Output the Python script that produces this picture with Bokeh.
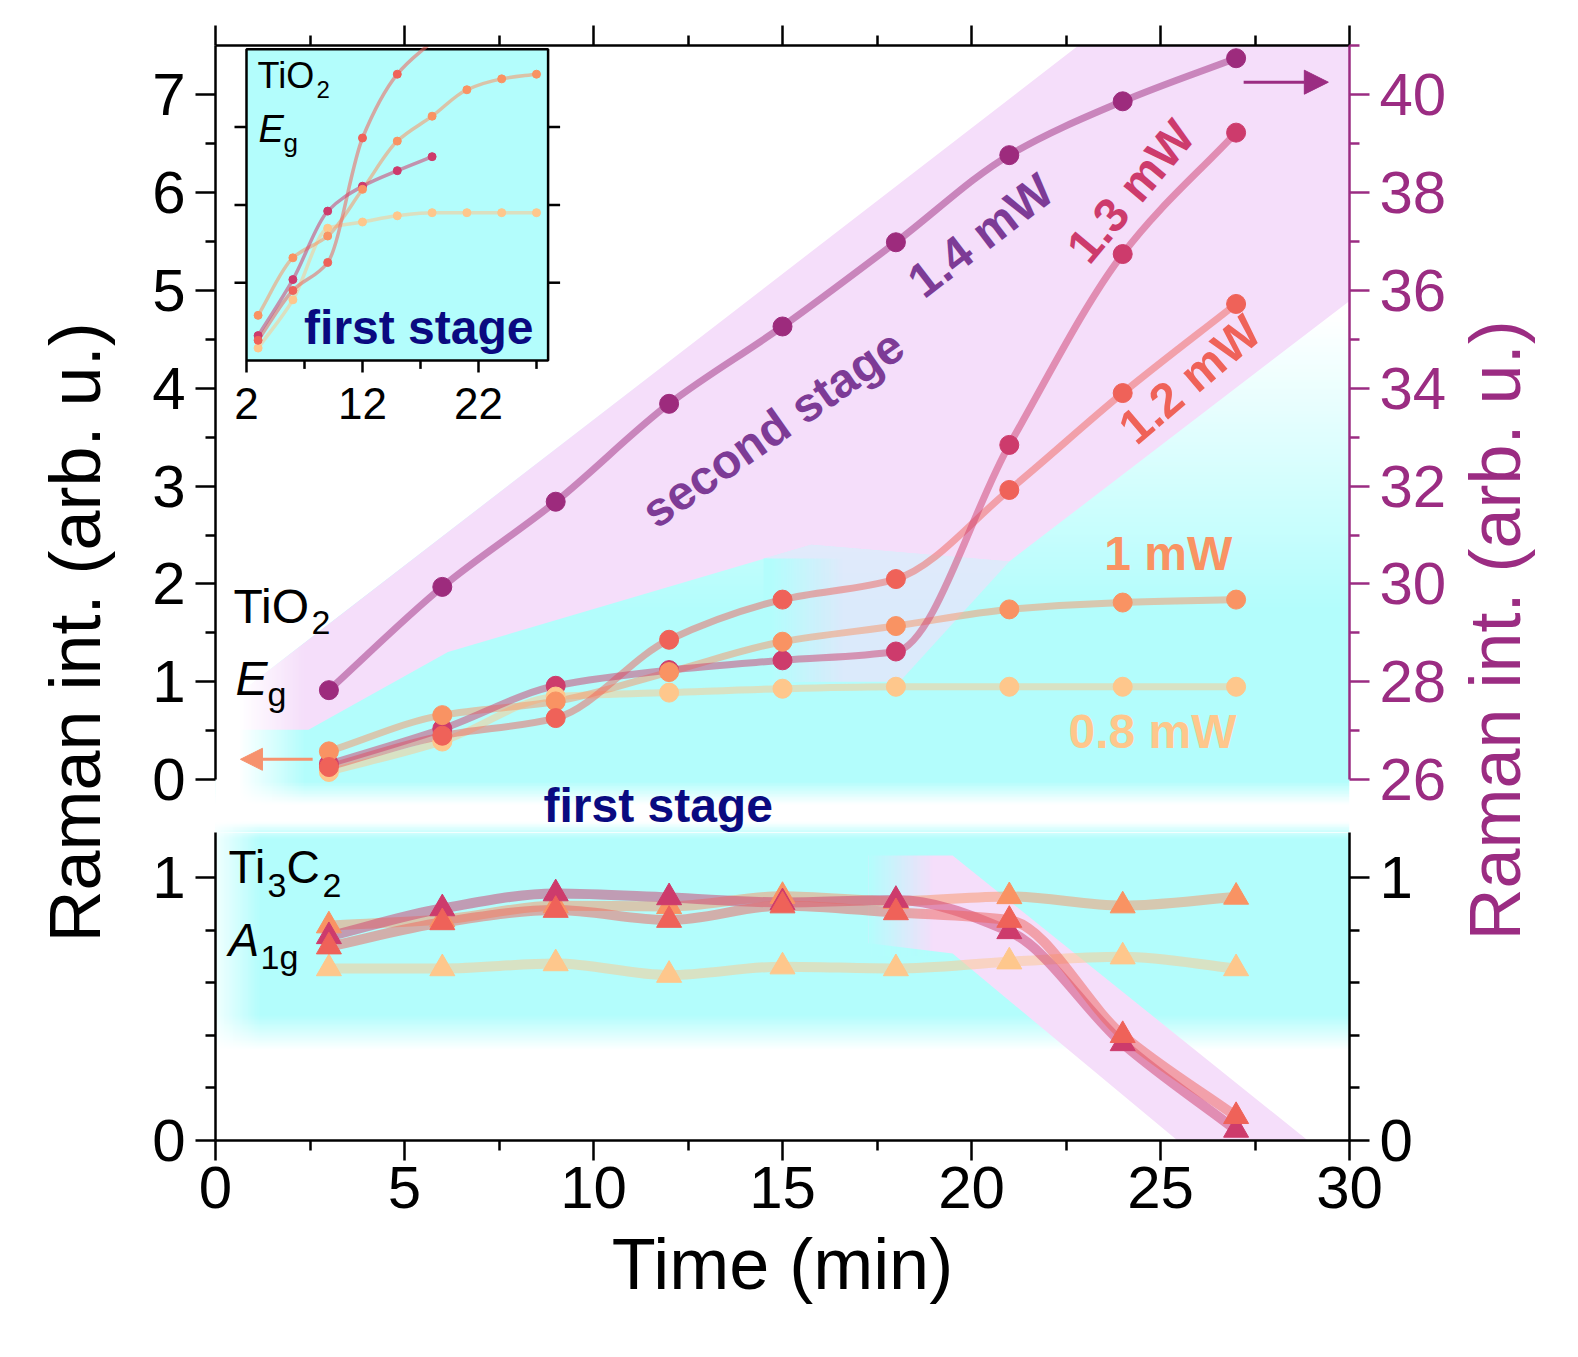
import numpy as np
from bokeh.plotting import figure
from bokeh.models import Range1d, LinearAxis, FixedTicker, Arrow, NormalHead, ColumnDataSource
from bokeh.layouts import row, column
from bokeh.embed import file_html
from bokeh.resources import INLINE
from bokeh.core.properties import value

# ---------------- data ----------------
time_min = [3, 6, 9, 12, 15, 18, 21, 24, 27]

# TiO2 Eg, left axis (arb. u.)
tio2_08mw = [0.08, 0.39, 0.85, 0.89, 0.93, 0.95, 0.95, 0.95, 0.95]
tio2_10mw = [0.29, 0.66, 0.80, 1.10, 1.41, 1.57, 1.74, 1.81, 1.84]
tio2_12mw = [0.13, 0.45, 0.63, 1.43, 1.84, 2.05, 2.96, 3.95, 4.86]
tio2_13mw = [0.16, 0.52, 0.96, 1.12, 1.22, 1.31, 3.42, 5.37, 6.61]
# TiO2 Eg, 1.4 mW, right axis (arb. u.)
tio2_14mw = [27.83, 29.94, 31.68, 33.68, 35.26, 36.98, 38.76, 39.86, 40.74]

# Ti3C2 A1g (arb. u.)
ti3c2_08mw = [0.654, 0.654, 0.673, 0.629, 0.661, 0.654, 0.680, 0.699, 0.654]
ti3c2_10mw = [0.817, 0.840, 0.893, 0.890, 0.929, 0.910, 0.928, 0.893, 0.926]
ti3c2_12mw = [0.737, 0.829, 0.876, 0.838, 0.893, 0.867, 0.838, 0.400, 0.092]
ti3c2_13mw = [0.776, 0.882, 0.939, 0.924, 0.905, 0.914, 0.795, 0.369, 0.040]

n_first_stage = 6  # points shown in the inset for 1.2 and 1.3 mW

x_ticks = [0, 5, 10, 15, 20, 25, 30]
x_minor = [2.5, 7.5, 12.5, 17.5, 22.5, 27.5]
left_ticks = [0, 1, 2, 3, 4, 5, 6, 7]
left_minor = [0.5, 1.5, 2.5, 3.5, 4.5, 5.5, 6.5]
right_ticks = [26, 28, 30, 32, 34, 36, 38, 40]
right_minor = [27, 29, 31, 33, 35, 37, 39, 41]
low_ticks = [0, 1]
low_minor = [0.2, 0.4, 0.6, 0.8, 1.2]
inset_xticks = [2, 12, 22]
inset_xminor = [7, 17, 27]
inset_yticks = [0.5, 1.0, 1.5]

# ---------------- style ----------------
FONT = "Liberation Sans"
C08, C10, C12, C13, C14 = "#fec78c", "#f99363", "#ef6259", "#cd3b6c", "#9d2b7d"
LBL14 = "#7d3b96"
PURPLE = "#9b2c82"
NAVY = "#0a0a80"
CYAN = (179, 253, 252)
CYAN_HEX = "#b3fdfc"
PINK = "#f5defa"
MID = 0.35  # distance from baseline to text middle, in em

FW = 1134
TOP_FH, BOT_FH = 787, 308
TOP_Y = (7.5 - TOP_FH / 97.9, 7.5)
RIGHT_Y = (26 + 2 * TOP_Y[0], 41.0)
INX = (-0.672, 97.086)
INY = ((360 - 832) / 155.6, 2.0244)
BOT_Y = (0.0, BOT_FH / 263)
BORDER_L, BORDER_R = 87, 100


def rgba(alpha, rgb):
    ny, nx = alpha.shape
    img = np.empty((ny, nx), dtype=np.uint32)
    v = img.view(dtype=np.uint8).reshape((ny, nx, 4))
    v[..., 0], v[..., 1], v[..., 2] = rgb
    v[..., 3] = (np.clip(alpha, 0, 1) * 255).astype(np.uint8)
    return img


def bez(x, y):
    """monotone cubic (PCHIP-like) Bezier segments through the points"""
    x = np.asarray(x, float)
    y = np.asarray(y, float)
    n = len(x)
    h = np.diff(x)
    dl = np.diff(y) / h
    d = np.zeros(n)
    d[0], d[-1] = dl[0], dl[-1]
    for k in range(1, n - 1):
        if dl[k - 1] * dl[k] <= 0:
            d[k] = 0.0
        else:
            w1 = 2 * h[k] + h[k - 1]
            w2 = h[k] + 2 * h[k - 1]
            d[k] = (w1 + w2) / (w1 / dl[k - 1] + w2 / dl[k])
    return ColumnDataSource(dict(
        x0=x[:-1], y0=y[:-1], x1=x[1:], y1=y[1:],
        cx0=x[:-1] + h / 3, cy0=y[:-1] + d[:-1] * h / 3,
        cx1=x[1:] - h / 3, cy1=y[1:] - d[1:] * h / 3,
    ))


def curve(p, x, y, color, width, alpha=0.5, **kw):
    p.bezier(x0="x0", y0="y0", x1="x1", y1="y1", cx0="cx0", cy0="cy0",
             cx1="cx1", cy1="cy1", source=bez(x, y), line_color=color,
             line_width=width, line_alpha=alpha, line_cap="round", **kw)


def style_axis(ax, color="black", fs="60px"):
    ax.axis_line_color = color
    ax.axis_line_width = 2.5
    ax.major_tick_line_color = color
    ax.minor_tick_line_color = color
    ax.major_tick_line_width = 2.5
    ax.minor_tick_line_width = 2.5
    ax.major_tick_out = 20
    ax.major_tick_in = 0
    ax.minor_tick_out = 10
    ax.minor_tick_in = 0
    ax.major_label_text_font = FONT
    ax.major_label_text_font_size = fs
    ax.major_label_text_color = color
    ax.major_label_standoff = 10


def txt(p, x, y, s, fs, color="black", style="normal", align="left",
        angle=0.0, xo=0, yo=0, centered=False, **kw):
    """y is the text baseline unless centered=True (then y is the text middle)"""
    if not centered:
        yo = yo - MID * fs
    p.text(x=[x], y=[y], text=[s], text_font=value(FONT), text_font_size=f"{fs}px",
           text_color=color, text_font_style=style, text_align=align,
           text_baseline="middle", angle=angle, x_offset=xo, y_offset=yo, **kw)


def no_grid(p):
    p.outline_line_color = None
    for g in p.xgrid + p.ygrid:
        g.visible = False


common = dict(output_backend="svg", toolbar_location=None,
              x_axis_location=None, y_axis_location=None,
              background_fill_color="white", border_fill_color="white")

# ================= top panel (TiO2) =================
top = figure(frame_width=FW, frame_height=TOP_FH, min_border_left=BORDER_L,
             min_border_right=BORDER_R, min_border_top=45, min_border_bottom=0,
             x_range=Range1d(0, 30), y_range=Range1d(*TOP_Y), **common)
no_grid(top)
top.extra_y_ranges = {"right": Range1d(*RIGHT_Y), "iny": Range1d(*INY)}
top.extra_x_ranges = {"inx": Range1d(*INX)}

ax = LinearAxis(bounds=(0, 7.5), ticker=FixedTicker(ticks=left_ticks, minor_ticks=left_minor))
style_axis(ax)
top.add_layout(ax, "left")
ax = LinearAxis(y_range_name="right", bounds=(26, 41),
                ticker=FixedTicker(ticks=right_ticks, minor_ticks=right_minor))
style_axis(ax, PURPLE)
top.add_layout(ax, "right")
ax = LinearAxis(ticker=FixedTicker(ticks=x_ticks, minor_ticks=x_minor))
style_axis(ax)
ax.major_label_overrides = {t: "" for t in x_ticks}
top.add_layout(ax, "above")

# background: cyan gradient (first stage), with a gap towards the lower panel
vv = np.linspace(TOP_Y[0], TOP_Y[1], 500)
pyt = 779.5 - 97.9 * vv
a = np.clip((4.75 - vv) / 3.0, 0, 1) * np.clip((805 - pyt) / 23, 0, 1)
a = np.maximum(a, np.clip((pyt - 822) / 16, 0, 1))
top.image_rgba(image=[rgba(np.tile(a[:, None], (1, 4)), CYAN)], x=0, y=TOP_Y[0],
               dw=30, dh=TOP_Y[1] - TOP_Y[0])
# white above band
top.patch(x=[0, 23.5, 0], y=[0.697, 7.7, 7.7], fill_color="white", line_color=None)
# pink band (second stage)
band_x = [0.3, 23.5, 30.0, 30.0, 21.0, 15.76, 6.15, 2.46, 0.3]
band_y = [0.786, 7.7, 7.7, 4.89, 2.23, 2.40, 1.305, 0.51, 0.51]
top.patch(x=band_x, y=band_y, fill_color=PINK, line_color=None)
# blend zone where the two stages overlap
blend_x = [14.6, 15.76, 21.0, 18.1, 14.6]
blend_y = [2.267, 2.40, 2.23, 1.0, 1.0]
top.patch(x=blend_x, y=blend_y, fill_color=PINK, fill_alpha=0.6, line_color=None)
xb = np.linspace(14.5, 16.8, 60)
ab = np.clip((16.6 - xb) / 1.9, 0, 1)
top.image_rgba(image=[rgba(np.tile(ab[None, :], (2, 1)), CYAN)], x=14.5, y=1.0,
               dw=2.3, dh=1.26)
# left fade
xl = np.linspace(0, 2.5, 60)
yl = np.linspace(TOP_Y[0], 1.55, 60)
XL, YL = np.meshgrid(xl, yl)
PYL = 779.5 - 97.9 * YL
alw = np.where(PYL < 812, np.clip((2.4 - XL) / 1.8, 0, 1), 0.8 * np.clip((1.2 - XL) / 1.2, 0, 1))
top.image_rgba(image=[rgba(alw, (255, 255, 255))], x=0, y=TOP_Y[0],
               dw=2.5, dh=1.55 - TOP_Y[0])

# ---------- inset ----------
IK = dict(x_range_name="inx", y_range_name="iny")
top.quad(left=2, right=28, bottom=0, top=2.0, fill_color=CYAN_HEX, line_color="black",
         line_width=2.5, **IK)
tl_y = 12 / 155.6
tl_x = 12 / 11.6
top.segment(x0=inset_xticks, y0=[0] * 3, x1=inset_xticks, y1=[-tl_y] * 3,
            line_color="black", line_width=2.5, **IK)
top.segment(x0=inset_xminor, y0=[0] * 3, x1=inset_xminor, y1=[-tl_y * 0.7] * 3,
            line_color="black", line_width=2.5, **IK)
top.segment(x0=[2] * 3, y0=inset_yticks, x1=[2 - tl_x] * 3, y1=inset_yticks,
            line_color="black", line_width=2.5, **IK)
top.segment(x0=[28] * 3, y0=inset_yticks, x1=[28 + tl_x] * 3, y1=inset_yticks,
            line_color="black", line_width=2.5, **IK)
top.text(x=inset_xticks, y=[-0.373] * 3, text=[str(v) for v in inset_xticks],
         text_font=value(FONT), text_font_size="44px", text_align="center",
         text_baseline="middle", y_offset=-MID * 44, text_color="black", **IK)

inset_series = [
    (time_min, tio2_08mw, C08),
    (time_min, tio2_10mw, C10),
    (time_min[:n_first_stage], tio2_12mw[:n_first_stage], C12),
    (time_min[:n_first_stage], tio2_13mw[:n_first_stage], C13),
]
for xs, ys, c in inset_series:
    curve(top, xs, ys, c, 3.5, 0.55, **IK)
for xs, ys, c in [inset_series[3], inset_series[0], inset_series[1], inset_series[2]]:
    top.scatter(x=xs, y=ys, size=8, color=c, **IK)

txt(top, 2.95, 1.748, "TiO", 36, **IK)
txt(top, 2.95, 1.748, "2", 24, xo=59, yo=9, **IK)
txt(top, 3.03, 1.40, "E", 38, style="italic", **IK)
txt(top, 3.03, 1.40, "g", 26, xo=25, yo=9, **IK)
txt(top, 26.74, 0.103, "first stage", 48, color=NAVY, style="bold", align="right", **IK)

# ---------- main TiO2 data ----------
curve(top, time_min, tio2_08mw, C08, 7)
curve(top, time_min, tio2_10mw, C10, 7)
curve(top, time_min, tio2_12mw, C12, 7)
curve(top, time_min, tio2_13mw, C13, 7)
curve(top, time_min, tio2_14mw, C14, 7, y_range_name="right")
top.scatter(x=time_min, y=tio2_14mw, size=19, color=C14, y_range_name="right")
top.scatter(x=time_min, y=tio2_13mw, size=19, color=C13)
top.scatter(x=time_min, y=tio2_08mw, size=19, color=C08)
top.scatter(x=time_min, y=tio2_10mw, size=19, color=C10)
top.scatter(x=time_min, y=tio2_12mw, size=19, color=C12)

txt(top, 0.476, 1.599, "TiO", 48)
txt(top, 0.476, 1.599, "2", 34, xo=78, yo=11)
txt(top, 0.529, 0.863, "E", 48, style="italic")
txt(top, 0.529, 0.863, "g", 34, xo=32, yo=11)

txt(top, 14.74, 3.59, "second stage", 48, color=LBL14, style="bold",
    align="center", angle=np.radians(35), centered=True)
txt(top, 20.24, 5.56, "1.4 mW", 48, color=LBL14, style="bold",
    align="center", angle=np.radians(37.5), centered=True)
txt(top, 24.21, 6.01, "1.3 mW", 48, color=C13, style="bold",
    align="center", angle=np.radians(50), centered=True)
txt(top, 25.77, 4.09, "1.2 mW", 48, color=C12, style="bold",
    align="center", angle=np.radians(40.5), centered=True)
txt(top, 26.9, 2.14, "1 mW", 48, color=C10, style="bold", align="right")
txt(top, 27.01, 0.322, "0.8 mW", 48, color=C08, style="bold", align="right")
txt(top, 11.71, -0.434, "first stage", 48, color=NAVY, style="bold", align="center")

top.add_layout(Arrow(end=NormalHead(size=22, fill_color="#f6926e", line_color="#f6926e"),
                     x_start=2.57, y_start=0.209, x_end=0.66, y_end=0.209,
                     line_color="#f6926e", line_width=3))
top.add_layout(Arrow(end=NormalHead(size=24, fill_color=PURPLE, line_color=PURPLE),
                     x_start=27.2, y_start=7.125, x_end=29.44, y_end=7.125,
                     line_color=PURPLE, line_width=3))

# ================= bottom panel (Ti3C2) =================
bot = figure(frame_width=FW, frame_height=BOT_FH, min_border_left=BORDER_L,
             min_border_right=BORDER_R, min_border_top=0, min_border_bottom=200,
             x_range=Range1d(0, 30), y_range=Range1d(*BOT_Y), **common)
no_grid(bot)

ax = LinearAxis(ticker=FixedTicker(ticks=x_ticks, minor_ticks=x_minor), axis_label="Time (min)")
style_axis(ax)
ax.major_label_standoff = 6
ax.axis_label_text_font = FONT
ax.axis_label_text_font_size = "72px"
ax.axis_label_text_font_style = "normal"
ax.axis_label_text_color = "black"
ax.axis_label_standoff = 13
bot.add_layout(ax, "below")
for side in ("left", "right"):
    ax = LinearAxis(bounds=(0, 1.2), ticker=FixedTicker(ticks=low_ticks, minor_ticks=low_minor))
    style_axis(ax)
    bot.add_layout(ax, side)

vb = np.linspace(BOT_Y[0], BOT_Y[1], 500)
pyb = 1140 - 263 * vb
ab = np.clip((pyb - 822) / 16, 0, 1) * np.clip((1050 - pyb) / 35, 0, 1)
bot.image_rgba(image=[rgba(np.tile(ab[:, None], (1, 4)), CYAN)], x=0, y=0, dw=30, dh=BOT_Y[1])

low_band_x = [17.28, 19.5, 28.9, 25.45, 19.5, 17.28]
low_band_y = [1.084, 1.084, 0.0, 0.0, 0.711, 0.75]
bot.patch(x=low_band_x, y=low_band_y, fill_color=PINK, line_color=None)
xf = np.linspace(17.28, 19.2, 50)
af = np.clip((19.0 - xf) / 1.72, 0, 1)
bot.image_rgba(image=[rgba(np.tile(af[None, :], (2, 1)), CYAN)], x=17.28, y=0.70,
               dw=19.2 - 17.28, dh=0.39)
xl = np.linspace(0, 2.5, 60)
alb = 0.8 * np.clip((1.2 - xl) / 1.2, 0, 1)
bot.image_rgba(image=[rgba(np.tile(alb[None, :], (2, 1)), (255, 255, 255))], x=0, y=0,
               dw=2.5, dh=BOT_Y[1])

curve(bot, time_min, ti3c2_08mw, C08, 10)
curve(bot, time_min, ti3c2_10mw, C10, 10)
curve(bot, time_min, ti3c2_13mw, C13, 10)
curve(bot, time_min, ti3c2_12mw, C12, 10)
for ys, c in [(ti3c2_08mw, C08), (ti3c2_10mw, C10), (ti3c2_13mw, C13), (ti3c2_12mw, C12)]:
    bot.scatter(x=time_min, y=ys, size=25, marker="triangle", color=c)

txt(bot, 0.344, 0.977, "Ti", 46)
txt(bot, 0.344, 0.977, "3", 34, xo=39, yo=14)
txt(bot, 0.344, 0.977, "C", 46, xo=58)
txt(bot, 0.344, 0.977, "2", 34, xo=94, yo=14)
txt(bot, 0.344, 0.703, "A", 46, style="italic")
txt(bot, 0.344, 0.703, "1g", 34, xo=32, yo=13)

# ================= axis titles =================
H = 45 + TOP_FH + BOT_FH + 200
labL = figure(frame_width=128, frame_height=H, min_border=0, x_range=Range1d(0, 128),
              y_range=Range1d(H, 0), **common)
no_grid(labL)
txt(labL, 100 - MID * 72, 632, "Raman int. (arb. u.)", 72, align="center",
    angle=np.pi / 2, centered=True)

WR = 110
labR = figure(frame_width=WR, frame_height=H, min_border=0, x_range=Range1d(0, WR),
              y_range=Range1d(H, 0), **common)
no_grid(labR)
right_base = 1520 - (128 + BORDER_L + FW + BORDER_R)
txt(labR, right_base - MID * 72, 630, "Raman int. (arb. u.)", 72, color=PURPLE,
    align="center", angle=np.pi / 2, centered=True)

layout = row(labL, column(top, bot), labR)
open("out.html", "w").write(file_html(layout, INLINE))
